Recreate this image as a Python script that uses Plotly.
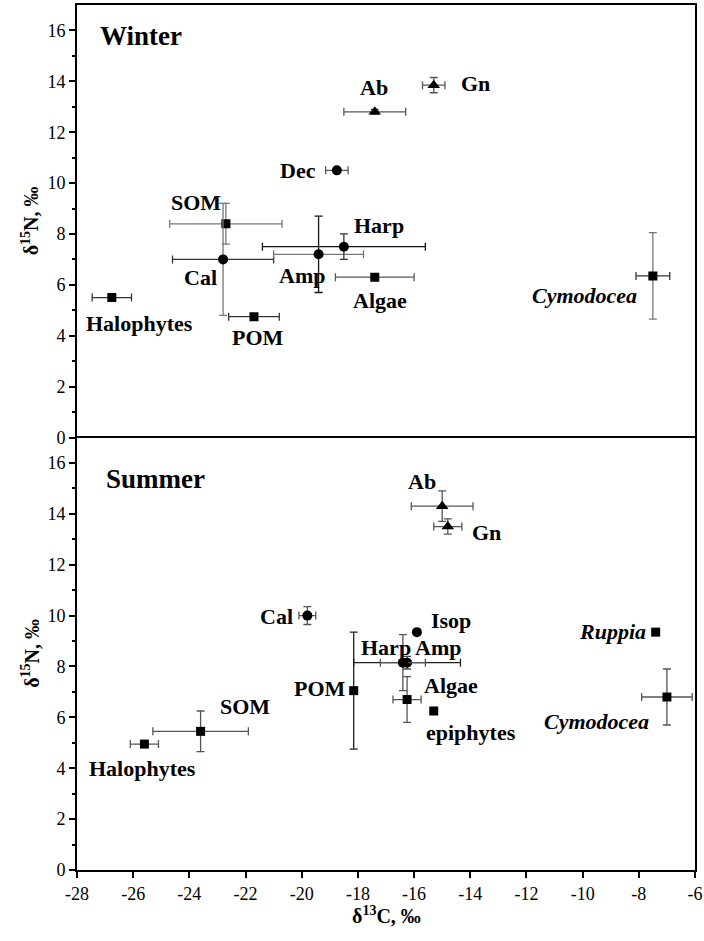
import plotly.graph_objects as go

FONT = "Liberation Serif"

# ---------------- Winter data ----------------
w_names = ["Halophytes", "SOM", "Cal", "POM", "Amp", "Harp", "Dec", "Algae", "Ab", "Gn", "Cymodocea"]
w_d13c = [-26.76, -22.7, -22.8, -21.7, -19.4, -18.5, -18.75, -17.4, -17.4, -15.3, -7.5]
w_d13c_sd = [0.7, 2.0, 1.8, 0.9, 1.6, 2.9, 0.4, 1.4, 1.1, 0.4, 0.6]
w_d15n = [5.5, 8.4, 7.0, 4.75, 7.2, 7.5, 10.5, 6.3, 12.8, 13.85, 6.35]
w_d15n_sd = [0.0, 0.8, 2.2, 0.0, 1.5, 0.5, 0.0, 0.0, 0.1, 0.3, 1.7]
w_group = ["source", "source", "invert", "source", "invert", "invert", "invert", "source", "fish", "fish", "source"]

# ---------------- Summer data ----------------
s_names = ["Halophytes", "SOM", "Cal", "POM", "Harp", "Amp", "Algae", "epiphytes", "Isop", "Ab", "Gn", "Ruppia", "Cymodocea"]
s_d13c = [-25.6, -23.6, -19.8, -18.15, -16.25, -16.4, -16.25, -15.3, -15.9, -15.0, -14.8, -7.4, -7.0]
s_d13c_sd = [0.5, 1.7, 0.3, 0.0, 1.9, 0.8, 0.5, 0.0, 0.0, 1.1, 0.5, 0.0, 0.9]
s_d15n = [4.95, 5.45, 10.0, 7.05, 8.15, 8.15, 6.7, 6.25, 9.35, 14.3, 13.5, 9.35, 6.8]
s_d15n_sd = [0.0, 0.8, 0.35, 2.3, 0.25, 1.1, 0.9, 0.0, 0.0, 0.6, 0.3, 0.0, 1.1]
s_group = ["source", "source", "invert", "source", "invert", "invert", "source", "source", "invert", "fish", "fish", "source", "source"]

# Label placement (text positions, data units)
w_lab_x = [-25.76, -23.78, -23.60, -21.57, -19.99, -17.25, -20.13, -17.23, -17.43, -13.80, -9.95]
w_lab_y = [4.48, 9.25, 6.29, 3.93, 6.37, 8.33, 10.50, 5.39, 13.76, 13.92, 5.58]
s_lab_x = [-25.67, -22.02, -20.90, -19.35, -17.0, -15.15, -14.70, -13.97, -14.69, -15.73, -13.44, -8.95, -9.49]
s_lab_y = [4.0, 6.43, 9.96, 7.14, 8.75, 8.75, 7.24, 5.41, 9.80, 15.29, 13.27, 9.37, 5.82]
italic_names = {"Cymodocea", "Ruppia"}

x_ticks = [-28, -26, -24, -22, -20, -18, -16, -14, -12, -10, -8, -6]
y_ticks = [0, 2, 4, 6, 8, 10, 12, 14, 16]

symbol_map = {"source": "square", "invert": "circle", "fish": "triangle-up"}
size_map = {"source": 9, "invert": 10, "fish": 11}

# error bar colours per point (x, y)
w_err_col = {
    "Halophytes": ("#333", "#333"), "SOM": ("#777", "#777"), "Cal": ("#333", "#777"),
    "POM": ("#333", "#333"), "Amp": ("#777", "#111"), "Harp": ("#111", "#333"),
    "Dec": ("#555", "#555"), "Algae": ("#555", "#555"), "Ab": ("#555", "#555"),
    "Gn": ("#555", "#555"), "Cymodocea": ("#333", "#777"),
}
s_err_col = {
    "POM": ("#222", "#222"), "Harp": ("#222", "#444"),
}

fig = go.Figure()


def add_panel(names, xs, xsd, ys, ysd, groups, colmap, xa, ya):
    for i, n in enumerate(names):
        cx, cy = colmap.get(n, ("#555", "#555"))
        fig.add_trace(go.Scatter(
            x=[xs[i]], y=[ys[i]], mode="markers",
            marker=dict(symbol=symbol_map[groups[i]], size=size_map[groups[i]], color="black"),
            error_x=dict(type="data", array=[xsd[i]], visible=xsd[i] > 0, color=cx, thickness=1.3, width=4),
            error_y=dict(type="data", array=[ysd[i]], visible=ysd[i] > 0, color=cy, thickness=1.3, width=4),
            xaxis=xa, yaxis=ya, showlegend=False, name=n,
        ))


add_panel(w_names, w_d13c, w_d13c_sd, w_d15n, w_d15n_sd, w_group, w_err_col, "x2", "y2")
add_panel(s_names, s_d13c, s_d13c_sd, s_d15n, s_d15n_sd, s_group, s_err_col, "x", "y")

annotations = []


def add_labels(names, lx, ly, xr, yr):
    for n, x, y in zip(names, lx, ly):
        t = f"<b>{n}</b>"
        if n in italic_names:
            t = f"<i><b>{n}</b></i>"
        annotations.append(dict(x=x, y=y, xref=xr, yref=yr, text=t, showarrow=False,
                                xanchor="center", yanchor="middle",
                                font=dict(family=FONT, size=22, color="black")))


add_labels(w_names, w_lab_x, w_lab_y, "x2", "y2")
add_labels(s_names, s_lab_x, s_lab_y, "x", "y")

annotations.append(dict(x=-27.26, y=15.8, xref="x2", yref="y2", text="<b>Winter</b>", showarrow=False,
                        xanchor="left", yanchor="middle", font=dict(family=FONT, size=27, color="black")))
annotations.append(dict(x=-27.04, y=15.37, xref="x", yref="y", text="<b>Summer</b>", showarrow=False,
                        xanchor="left", yanchor="middle", font=dict(family=FONT, size=27, color="black")))

# axis titles
ytitle = "<b>δ<sup>15</sup>N, ‰</b>"
for yc in (0.75, 0.25):
    annotations.append(dict(x=-0.076, y=yc, xref="paper", yref="paper", text=ytitle, showarrow=False,
                            textangle=-90, xanchor="center", yanchor="middle",
                            font=dict(family=FONT, size=20, color="black")))
annotations.append(dict(x=0.5, y=-0.052, xref="paper", yref="paper", text="<b>δ<sup>13</sup>C, ‰</b>",
                        showarrow=False, xanchor="center", yanchor="middle",
                        font=dict(family=FONT, size=20, color="black")))

yaxis_common = dict(
    range=[0, 17], tickvals=y_ticks, ticktext=[str(v) for v in y_ticks],
    ticks="outside", ticklen=6, tickwidth=1.5, tickcolor="black",
    minor=dict(tickvals=[1, 3, 5, 7, 9, 11, 13, 15], ticks="outside", ticklen=3, tickwidth=1.5, tickcolor="black"),
    showline=True, linewidth=2, linecolor="black", mirror=True,
    showgrid=False, zeroline=False, automargin=False,
    tickfont=dict(family=FONT, size=18, color="black"),
)

fig.update_layout(
    width=704, height=941,
    margin=dict(l=77, r=9, t=5, b=71, autoexpand=False),
    paper_bgcolor="white", plot_bgcolor="white",
    font=dict(family=FONT, size=18, color="black"),
    xaxis=dict(
        domain=[0, 1], anchor="y", range=[-28, -6], tickvals=x_ticks, ticktext=[str(v) for v in x_ticks],
        ticks="outside", ticklen=6, tickwidth=1.5, tickcolor="black",
        showline=True, linewidth=2, linecolor="black", mirror=True,
        showgrid=False, zeroline=False, automargin=False,
        tickfont=dict(family=FONT, size=18, color="black"),
    ),
    yaxis=dict(domain=[0, 0.5], anchor="x", **yaxis_common),
    xaxis2=dict(
        domain=[0, 1], anchor="y2", range=[-28, -6], matches="x", side="top",
        showticklabels=False, ticks="",
        showline=True, linewidth=2, linecolor="black", mirror=False,
        showgrid=False, zeroline=False, automargin=False,
    ),
    yaxis2=dict(domain=[0.5, 1], anchor="x2", **yaxis_common),
    annotations=annotations,
)

fig.write_html("out.html", config={"displayModeBar": False},
               post_script="document.body.style.margin='0';document.body.style.padding='0';")
